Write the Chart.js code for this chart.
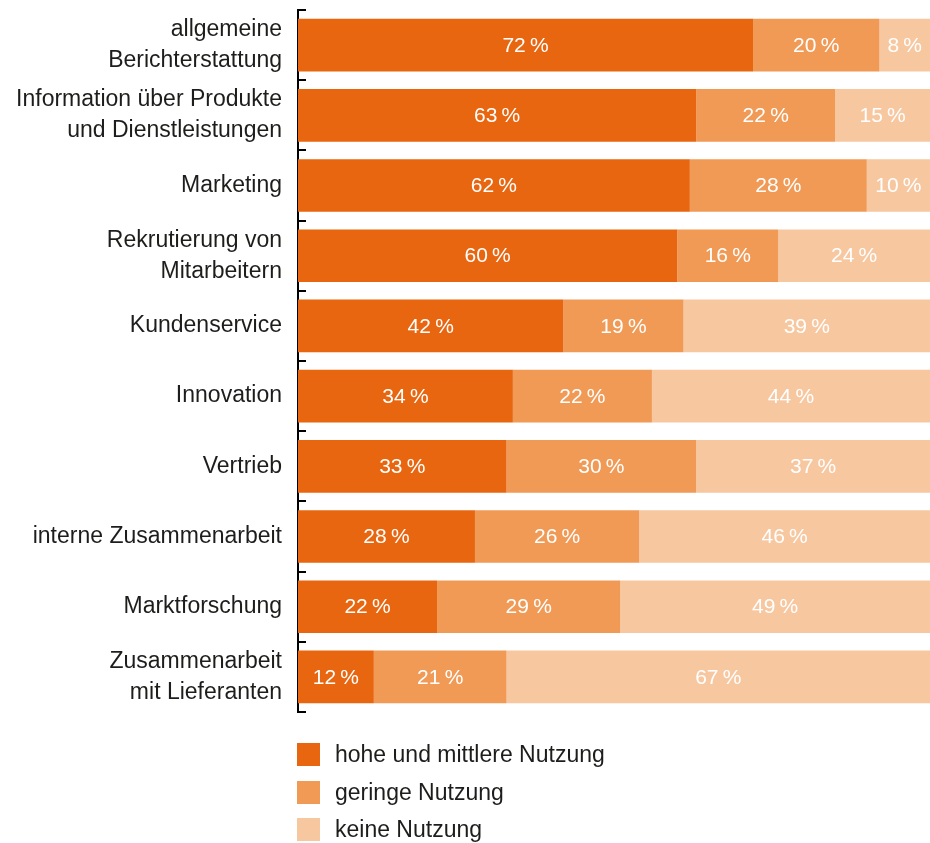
<!DOCTYPE html>
<html>
<head>
<meta charset="utf-8">
<script src="https://cdn.jsdelivr.net/npm/chart.js@4/dist/chart.umd.min.js"></script>
<style>
  html, body { margin: 0; padding: 0; background: #fff; }
  #wrap { position: relative; width: 930px; height: 843px; }
  #legend { position: absolute; left: 297px; top: 743px; font-family: "Liberation Sans", Arial, sans-serif; font-size: 23px; color: #1d1d1b; }
  #legend .item { display: flex; align-items: center; height: 23px; margin-bottom: 14.5px; }
  #legend .box { width: 23px; height: 23px; margin-right: 15px; }
</style>
</head>
<body>
<div id="wrap">
  <canvas id="chart" width="930" height="843"></canvas>
  <div id="legend"></div>
</div>
<script>
const categories = [
  ['allgemeine', 'Berichterstattung'],
  ['Information über Produkte', 'und Dienstleistungen'],
  'Marketing',
  ['Rekrutierung von', 'Mitarbeitern'],
  'Kundenservice',
  'Innovation',
  'Vertrieb',
  'interne Zusammenarbeit',
  'Marktforschung',
  ['Zusammenarbeit', 'mit Lieferanten'],
]
const seriesNames = ['hohe und mittlere Nutzung', 'geringe Nutzung', 'keine Nutzung']
const hoheNutzung = [72, 63, 62, 60, 42, 34, 33, 28, 22, 12]
const geringeNutzung = [20, 22, 28, 16, 19, 22, 30, 26, 29, 21]
const keineNutzung = [8, 15, 10, 24, 39, 44, 37, 46, 49, 67]
const colors = ['#E8660F', '#F09A56', '#F7C7A0']

const font = '"Liberation Sans", Arial, sans-serif'

// white value labels centred in each segment
const valueLabels = {
  id: 'valueLabels',
  afterDatasetsDraw(chart) {
    const ctx = chart.ctx
    ctx.save()
    ctx.fillStyle = '#ffffff'
    ctx.font = '21px ' + font
    ctx.textAlign = 'center'
    ctx.textBaseline = 'middle'
    chart.data.datasets.forEach((ds, i) => {
      chart.getDatasetMeta(i).data.forEach((bar, j) => {
        const p = bar.getCenterPoint()
        ctx.fillText(ds.data[j] + '\u2009%', p.x, p.y + 1)
      })
    })
    ctx.restore()
  }
}

// short ticks on the inner side of the axis at category borders
const innerTicks = {
  id: 'innerTicks',
  afterDraw(chart) {
    const { ctx, chartArea } = chart
    const n = categories.length
    const band = (chartArea.bottom - chartArea.top) / n
    ctx.save()
    ctx.strokeStyle = '#000'
    ctx.lineWidth = 2
    for (let i = 0; i <= n; i++) {
      const y = Math.round(chartArea.top + i * band)
      ctx.beginPath()
      ctx.moveTo(chartArea.left - 1, y)
      ctx.lineTo(chartArea.left + 8, y)
      ctx.stroke()
    }
    ctx.restore()
  }
}

const datasets = [hoheNutzung, geringeNutzung, keineNutzung].map((data, i) => ({
  label: seriesNames[i],
  data,
  backgroundColor: colors[i],
  borderWidth: 0,
  barPercentage: 0.75,
  categoryPercentage: 1,
}))

new Chart(document.getElementById('chart'), {
  type: 'bar',
  data: { labels: categories, datasets },
  options: {
    indexAxis: 'y',
    responsive: false,
    animation: false,
    layout: { padding: { top: 10, bottom: 131, left: 0, right: 0 } },
    plugins: { legend: { display: false }, tooltip: { enabled: false } },
    scales: {
      x: { stacked: true, min: 0, max: 100, display: false },
      y: {
        stacked: true,
        afterFit(scale) {
          scale.width = 298
          scale.paddingTop = 0
          scale.paddingBottom = 0
        },
        grid: { display: true, drawOnChartArea: false, drawTicks: false },
        border: { display: true, color: '#000', width: 2 },
        ticks: {
          padding: 16,
          color: '#1d1d1b',
          font: { family: font, size: 23, lineHeight: 1.35 },
        },
      },
    },
  },
  plugins: [valueLabels, innerTicks],
})

const legend = document.getElementById('legend')
seriesNames.forEach((name, i) => {
  const item = document.createElement('div')
  item.className = 'item'
  item.innerHTML = '<span class="box" style="background:' + colors[i] + '"></span><span>' + name + '</span>'
  legend.appendChild(item)
})
</script>
</body>
</html>
